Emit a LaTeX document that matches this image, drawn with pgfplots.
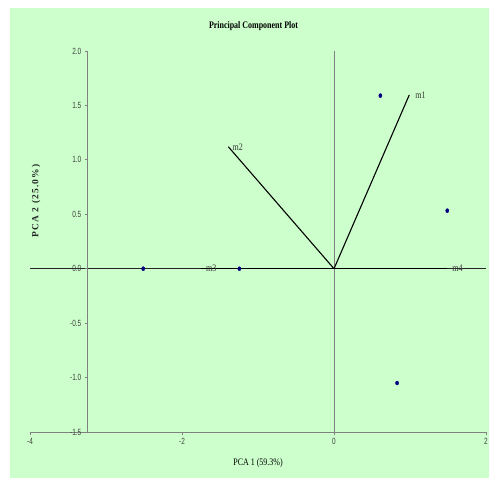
\documentclass[border=0pt]{standalone}
\usepackage{pgfplots}
\pgfplotsset{compat=1.18}
\usepackage{fontspec}
\setmainfont{Liberation Serif}
\newfontfamily\ticksf[FakeStretch=0.72]{Liberation Sans}
\newfontfamily\narrowserif[FakeStretch=0.8]{Liberation Serif}
\newfontfamily\ylabf[LetterSpace=12]{Liberation Serif}
\definecolor{bg}{HTML}{CCFFCC}
\definecolor{axgray}{HTML}{808080}
\definecolor{ptc}{HTML}{000080}
\pgfplotsset{
  common/.style={
    scale only axis, height=381bp,
    ymin=-1.5, ymax=2,
    axis line style={axgray, line width=0.8bp},
    tick style={axgray, line width=0.8bp},
    major tick length=3bp, tick align=outside,
    tick label style={font=\ticksf\fontsize{9}{10}\selectfont, text=black!75},
    /pgf/number format/assume math mode=true,
  }
}
\begin{document}
\begin{tikzpicture}[x=1bp,y=1bp]
\fill[white] (-30,-49) rectangle (459,432);
\fill[bg] (-20,-46) rectangle (459,424);
% horizontal axis and data
\begin{axis}[common,
  at={(0,0)}, anchor=south west,
  width=456bp,
  xmin=-4, xmax=2,
  axis x line*=bottom, axis y line=none,
  xtick={-4,-2,0,2},
  clip=false,
]
\addplot[black!85, line width=1.2bp] coordinates {(-4,0) (2,0)};
\addplot[axgray, line width=1bp] coordinates {(0,-1.5) (0,2)};
\addplot[black, line width=1.1bp] coordinates {(0,0) (0.99,1.596)};
\addplot[black, line width=1.1bp] coordinates {(0,0) (-1.39,1.12)};
\addplot[black, line width=1.1bp] coordinates {(0,0) (-1.75,0)};
\addplot[black, line width=1.1bp] coordinates {(0,0) (1.49,0)};
\addplot[only marks, mark=*, mark size=1.6bp, ptc, mark options={yscale=1.25}] coordinates {
  (0.61,1.59) (1.49,0.533) (0.83,-1.05) (-2.51,0) (-1.245,0)};
\node[anchor=west, inner sep=1bp, xshift=5bp, font=\narrowserif\fontsize{10}{11}\selectfont, text=black!80] at (axis cs:0.99,1.596) {m1};
\node[anchor=west, inner sep=1bp, xshift=3bp, font=\narrowserif\fontsize{10}{11}\selectfont, text=black!80] at (axis cs:-1.39,1.12) {m2};
\node[anchor=west, inner sep=1bp, xshift=4bp, font=\narrowserif\fontsize{10}{11}\selectfont, text=black!80] at (axis cs:-1.75,0) {m3};
\node[anchor=west, inner sep=1bp, xshift=4bp, font=\narrowserif\fontsize{10}{11}\selectfont, text=black!80] at (axis cs:1.49,0) {m4};
\end{axis}
% vertical axis at x = -3
\begin{axis}[common,
  at={(76,0)}, anchor=south west,
  width=380bp,
  xmin=-3, xmax=2,
  axis y line*=left, axis x line=none,
  ytick={-1.5,-1,-0.5,0,0.5,1,1.5,2},
  yticklabel style={/pgf/number format/.cd, fixed, fixed zerofill, precision=1},
]
\addplot[draw=none] coordinates {(-3,0)};
\end{axis}
\node[font=\narrowserif\bfseries\fontsize{10}{11}\selectfont] at (223.5,406) {Principal Component Plot};
\node[font=\narrowserif\fontsize{10}{11}\selectfont] at (228,-31) {PCA 1 (59.3\%)};
\node[rotate=90, font=\ylabf\bfseries\fontsize{9.5}{11}\selectfont, text=black!85] at (6,231) {PCA 2 (25.0\%)};
\pgfresetboundingbox
\path (-30,-49) rectangle (459,432);
\end{tikzpicture}
\end{document}
